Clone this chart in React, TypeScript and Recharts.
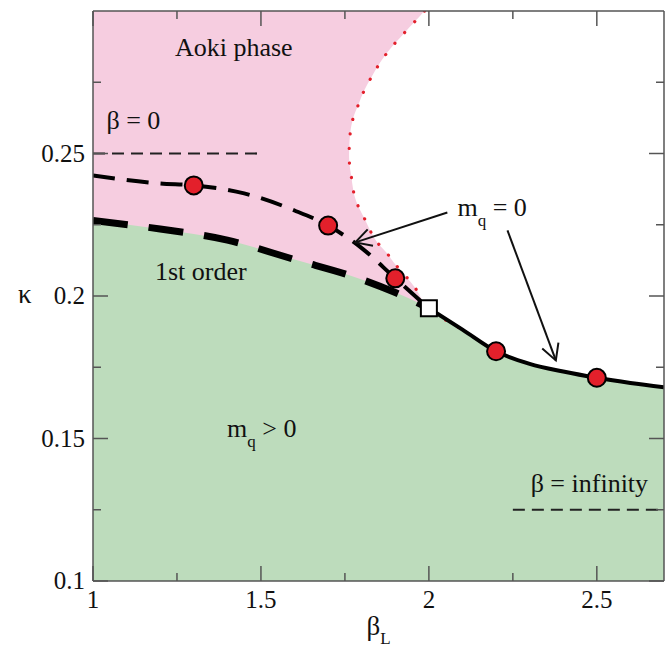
import React from 'react';
import {
  ComposedChart, Area, Line, Scatter, XAxis, YAxis,
  ReferenceArea, ReferenceLine, ReferenceDot, Label,
} from 'recharts';

const SERIF = '"Liberation Serif", "Times New Roman", serif';
const PINK = '#f6cde0';
const GREEN = '#bddcbc';
const RED = '#e3202b';
const INK = '#111';
const FRAME = '#555';

// crossover line (medium dashes) coming from the beta = 0 side
const crossBeta = [1.0, 1.2, 1.3, 1.45, 1.6, 1.7, 1.8, 1.9, 2.0];
const crossKappa = [0.2423, 0.2395, 0.2388, 0.236, 0.23, 0.2247, 0.2168, 0.2062, 0.1957];

// first order line (thick dashes)
const firstBeta = [1.0, 1.2, 1.4, 1.6, 1.8, 1.9, 2.0];
const firstKappa = [0.2265, 0.2235, 0.2196, 0.2128, 0.2058, 0.2012, 0.1957];

// mq = 0 line beyond the end point (solid)
const secondBeta = [2.0, 2.1, 2.2, 2.3, 2.4, 2.5, 2.6, 2.7];
const secondKappa = [0.1957, 0.1882, 0.1806, 0.1762, 0.1735, 0.1713, 0.1695, 0.168];

// Aoki phase boundary (red dots), traced from the top edge down to the end point
const aokiBeta = [1.987, 1.963, 1.933, 1.903, 1.876, 1.849, 1.828, 1.807, 1.79, 1.775, 1.766, 1.763,
  1.763, 1.769, 1.775, 1.787, 1.807, 1.825, 1.849, 1.876, 1.903, 1.96, 2.0];
const aokiKappa = [0.3, 0.2969, 0.2931, 0.2892, 0.2854, 0.2808, 0.2766, 0.272, 0.2671, 0.2626, 0.2573, 0.2524,
  0.2472, 0.2419, 0.237, 0.2322, 0.2275, 0.223, 0.2184, 0.2149, 0.2107, 0.2027, 0.1957];

// simulation points and the end point
const simBeta = [1.3, 1.7, 1.9, 2.2, 2.5];
const simKappa = [0.2388, 0.2247, 0.2062, 0.1806, 0.1713];
const endBeta = [2.0];
const endKappa = [0.1957];

const xMajor = [1, 1.5, 2, 2.5];
const xMinor = [1.25, 1.75, 2.25];
const yMajor = [0.1, 0.15, 0.2, 0.25];
const yMinor = [0.125, 0.175, 0.225, 0.275];

const toPts = (bs: number[], ks: number[]) => bs.map((b, i) => ({ b, k: ks[i] }));

const crossPts = toPts(crossBeta, crossKappa);
const firstPts = toPts(firstBeta, firstKappa);
const secondPts = toPts(secondBeta, secondKappa);
const aokiPts = toPts(aokiBeta, aokiKappa).concat(secondPts.slice(1, 2));
const greenPts = firstPts.concat(secondPts.slice(1));
const simPts = toPts(simBeta, simKappa);
const endPts = toPts(endBeta, endKappa);

const xTicks = [...xMajor, ...xMinor].sort((a, b) => a - b);
const yTicks = [...yMajor, ...yMinor].sort((a, b) => a - b);

const txt = { fontFamily: SERIF, fill: INK };

const xTick = (dir: number, labels: boolean) => (p: any) => {
  const v = p.payload.value;
  const major = xMajor.includes(v);
  return (
    <g>
      <line x1={p.x} y1={p.y} x2={p.x} y2={p.y - dir * (major ? 15 : 8)} stroke={FRAME} strokeWidth={1.5} />
      {labels && major && (
        <text x={p.x} y={p.y + 27} textAnchor="middle" fontSize={25} {...txt}>{String(v)}</text>
      )}
    </g>
  );
};

const yTick = (dir: number, labels: boolean) => (p: any) => {
  const v = p.payload.value;
  const major = yMajor.includes(v);
  return (
    <g>
      <line x1={p.x} y1={p.y} x2={p.x + dir * (major ? 15 : 8)} y2={p.y} stroke={FRAME} strokeWidth={1.5} />
      {labels && major && (
        <text x={p.x - 8} y={p.y + 8} textAnchor="end" fontSize={25} {...txt}>{String(v)}</text>
      )}
    </g>
  );
};

const BetaTitle = (p: any) => {
  const vb = p.viewBox;
  return (
    <text x={vb.x + vb.width / 2 - 12} y={vb.y + 54} fontSize={27} {...txt}>
      β<tspan fontSize={17} dy={9}>L</tspan>
    </text>
  );
};

const KappaTitle = (p: any) => {
  const vb = p.viewBox;
  return (
    <text x={vb.x + 18} y={vb.y + vb.height / 2 + 7} fontSize={27} {...txt}>κ</text>
  );
};

const note = (content: React.ReactNode, anchor: string = 'start') => (p: any) => (
  <text x={p.cx} y={p.cy} textAnchor={anchor} fontSize={26} {...txt}>{content}</text>
);

const Arrow = (p: any) => {
  const { x1, y1, x2, y2 } = p;
  const a = Math.atan2(y2 - y1, x2 - x1);
  const L = 18;
  const w = 0.5;
  const h1 = `${x2 - L * Math.cos(a - w)},${y2 - L * Math.sin(a - w)}`;
  const h2 = `${x2 - L * Math.cos(a + w)},${y2 - L * Math.sin(a + w)}`;
  return (
    <g>
      <line x1={x1} y1={y1} x2={x2} y2={y2} stroke={INK} strokeWidth={2} />
      <polyline points={`${h1} ${x2},${y2} ${h2}`} fill="none" stroke={INK} strokeWidth={2} />
    </g>
  );
};

const SimDot = (p: any) => (
  <circle cx={p.cx} cy={p.cy} r={9} fill={RED} stroke="#000" strokeWidth={2} />
);

const EndSquare = (p: any) => (
  <rect x={p.cx - 8} y={p.cy - 8} width={16} height={16} fill="#fff" stroke="#000" strokeWidth={2} />
);

export default function App() {
  return (
    <div style={{ position: 'absolute', left: 0, top: 0, width: 667, height: 648, background: '#fff' }}>
      <ComposedChart width={667} height={648} margin={{ top: 10, right: 2, bottom: 7, left: 0 }}>
        <XAxis
          type="number" dataKey="b" domain={[1, 2.7]} ticks={xTicks} interval={0}
          tickSize={0} tickMargin={0} height={60} allowDataOverflow
          axisLine={{ stroke: FRAME, strokeWidth: 1.5 }} tickLine={false} tick={xTick(1, true)}
        >
          <Label content={BetaTitle} />
        </XAxis>
        <XAxis
          xAxisId="top" orientation="top" type="number" dataKey="b" domain={[1, 2.7]} ticks={xTicks}
          interval={0} tickSize={0} tickMargin={0} height={1} allowDataOverflow
          axisLine={{ stroke: FRAME, strokeWidth: 1.5 }} tickLine={false} tick={xTick(-1, false)}
        />
        <YAxis
          type="number" dataKey="k" domain={[0.1, 0.3]} ticks={yTicks} interval={0}
          tickSize={0} tickMargin={0} width={93} allowDataOverflow
          axisLine={{ stroke: FRAME, strokeWidth: 1.5 }} tickLine={false} tick={yTick(1, true)}
        >
          <Label content={KappaTitle} />
        </YAxis>
        <YAxis
          yAxisId="right" orientation="right" type="number" domain={[0.1, 0.3]} ticks={yTicks}
          interval={0} tickSize={0} tickMargin={0} width={1} allowDataOverflow
          axisLine={{ stroke: FRAME, strokeWidth: 1.5 }} tickLine={false} tick={yTick(-1, false)}
        />

        <ReferenceArea x1={1} x2={2.7} y1={0.1} y2={0.3} fill={PINK} fillOpacity={1} stroke="none" />
        <Area data={aokiPts} dataKey="k" type="natural" baseValue={0.3} fill="#fff" fillOpacity={1}
          stroke="none" isAnimationActive={false} />
        <Area data={secondPts} dataKey="k" type="monotone" baseValue={0.3} fill="#fff" fillOpacity={1}
          stroke="none" isAnimationActive={false} />
        <Area data={greenPts} dataKey="k" type="monotone" baseValue={0.1} fill={GREEN} fillOpacity={1}
          stroke="none" isAnimationActive={false} />

        <Line data={aokiPts} dataKey="k" type="natural" stroke={RED} strokeWidth={3.2}
          strokeDasharray="0.1 14.5" strokeLinecap="round" dot={false} isAnimationActive={false} />
        <Line data={crossPts} dataKey="k" type="monotone" stroke="#000" strokeWidth={4}
          strokeDasharray="22 12" dot={false} isAnimationActive={false} />
        <Line data={firstPts} dataKey="k" type="monotone" stroke="#000" strokeWidth={7}
          strokeDasharray="35 21" dot={false} isAnimationActive={false} />
        <Line data={secondPts} dataKey="k" type="monotone" stroke="#000" strokeWidth={4}
          dot={false} isAnimationActive={false} />

        <ReferenceLine segment={[{ x: 1, y: 0.25 }, { x: 1.5, y: 0.25 }]} stroke="#222"
          strokeWidth={2.2} strokeDasharray="12 7" />
        <ReferenceLine segment={[{ x: 2.25, y: 0.125 }, { x: 2.7, y: 0.125 }]} stroke="#222"
          strokeWidth={2.2} strokeDasharray="12 7" />
        <ReferenceLine segment={[{ x: 2.055, y: 0.2293 }, { x: 1.781, y: 0.2188 }]} shape={Arrow} />
        <ReferenceLine segment={[{ x: 2.234, y: 0.223 }, { x: 2.378, y: 0.1774 }]} shape={Arrow} />

        <Scatter data={simPts} dataKey="k" shape={SimDot} isAnimationActive={false} />
        <Scatter data={endPts} dataKey="k" shape={EndSquare} isAnimationActive={false} />

        <ReferenceDot x={1.419} y={0.2843} r={0} shape={note('Aoki phase', 'middle')} />
        <ReferenceDot x={1.04} y={0.2587} r={0} shape={note('β = 0')} />
        <ReferenceDot x={1.321} y={0.2055} r={0} shape={note('1st order', 'middle')} />
        <ReferenceDot x={1.399} y={0.1505} r={0}
          shape={note(<>m<tspan fontSize={17} dy={10}>q</tspan><tspan dy={-10}> &gt; 0</tspan></>)} />
        <ReferenceDot x={2.085} y={0.2282} r={0}
          shape={note(<>m<tspan fontSize={17} dy={10}>q</tspan><tspan dy={-10}> = 0</tspan></>)} />
        <ReferenceDot x={2.303} y={0.1312} r={0} shape={note('β = infinity')} />
      </ComposedChart>
    </div>
  );
}
